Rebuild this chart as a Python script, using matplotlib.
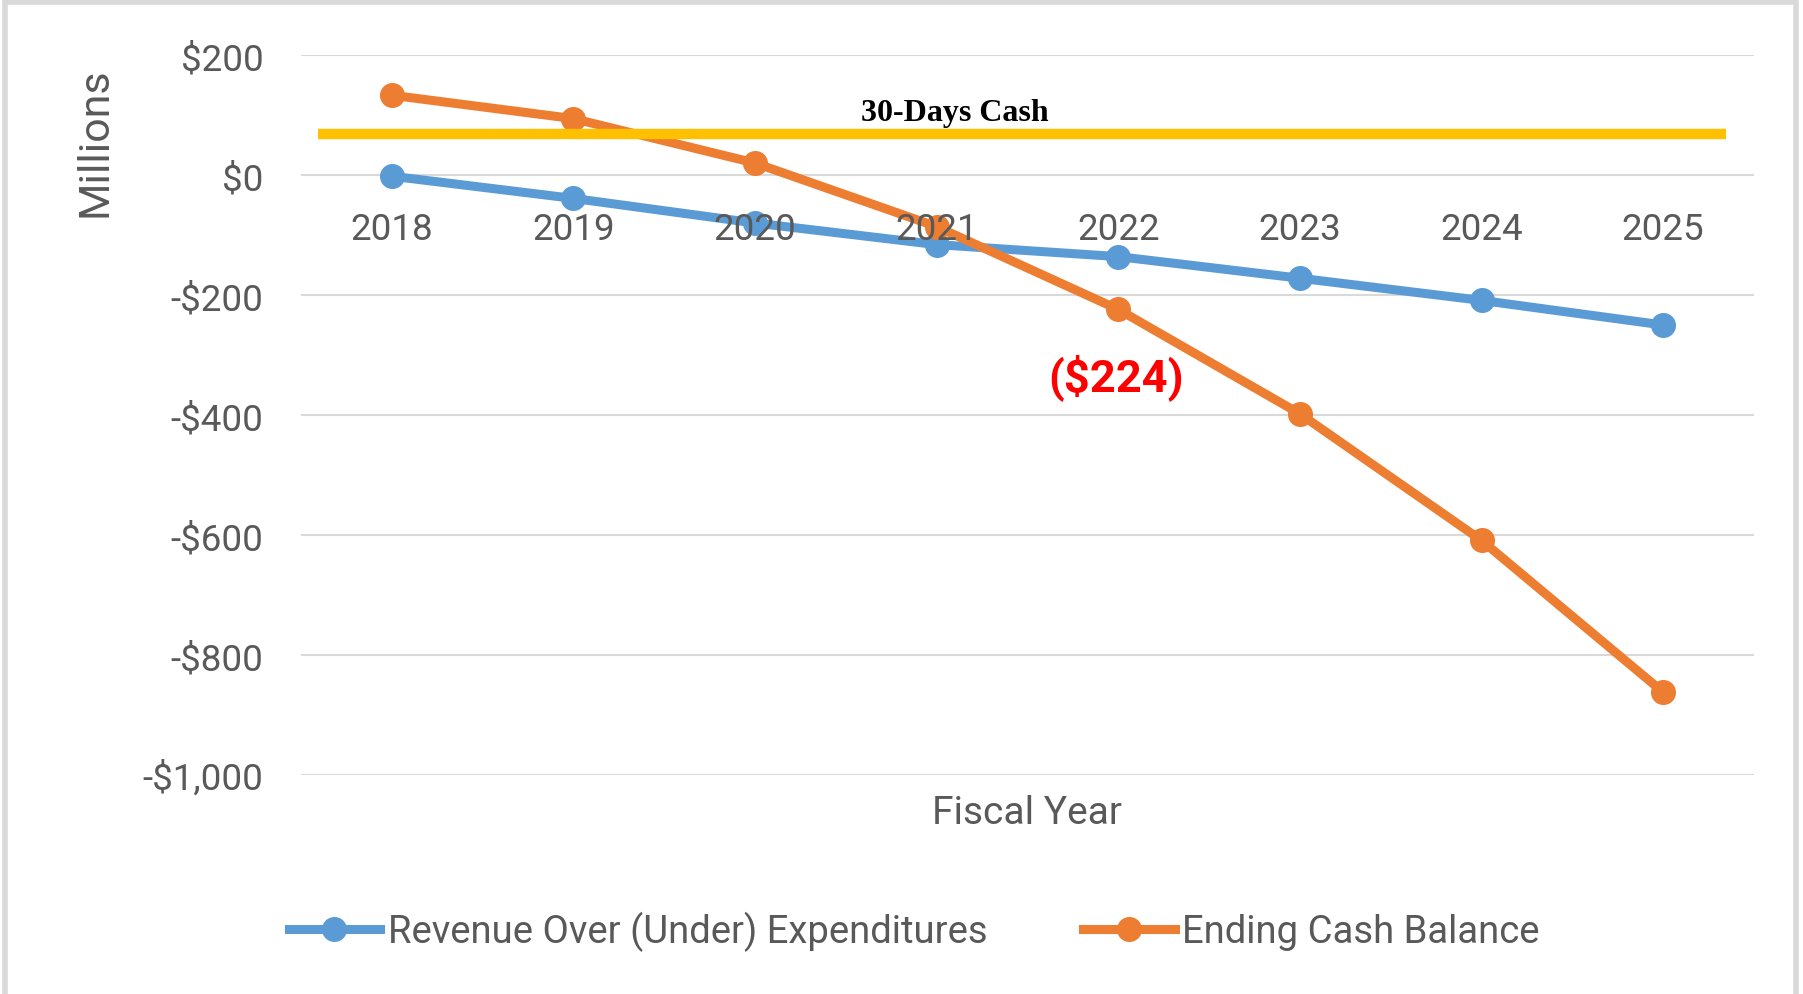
import matplotlib.pyplot as plt
from matplotlib.patches import Rectangle

# chart data (millions)
years = ['2018', '2019', '2020', '2021', '2022', '2023', '2024', '2025']
revenue_over_under = [-2, -39, -80, -116, -136, -172, -209, -250]
ending_cash = [133, 94, 20, -86, -224, -398, -609, -862]
cash_30_days = 68
y_ticks = [200, 0, -200, -400, -600, -800, -1000]
y_tick_labels = ['$200', '$0', '-$200', '-$400', '-$600', '-$800', '-$1,000']

plt.rcParams['font.family'] = ['Roboto', 'DejaVu Sans']
gray = '#595959'

fig = plt.figure(figsize=(18.03, 9.95), dpi=100, facecolor='w')
ax = fig.add_axes([0.1669, 0.2201, 0.8059, 0.7236])

x = list(range(len(years)))
ax.plot(x, revenue_over_under, color='#5B9BD5', lw=6.5, marker='o', ms=17,
        zorder=3, label='Revenue Over (Under) Expenditures')
ax.plot(x, ending_cash, color='#ED7D31', lw=6.5, marker='o', ms=17,
        zorder=4, label='Ending Cash Balance')

# 30 days cash line + labels
ax.axhline(cash_30_days, xmin=0.012, xmax=0.981, color='#FFC000', lw=7.5,
           solid_capstyle='butt', zorder=5)
ax.text(3.1, cash_30_days + 37, '30-Days Cash', family='Liberation Serif',
        weight='bold', fontsize=23, ha='center', va='center', zorder=6)
ax.text(3.99, ending_cash[4] - 112, '($%d)' % -ending_cash[4], color='#FF0000',
        weight='bold', fontsize=32.5, ha='center', va='center', zorder=6)

ax.set_xlim(-0.5, len(years) - 0.5)
ax.set_ylim(-1000, 200)
ax.set_xticks(x)
ax.set_xticklabels(years)
ax.set_yticks(y_ticks)
ax.set_yticklabels(y_tick_labels)

for s in ax.spines.values():
    s.set_visible(False)
ax.spines['bottom'].set_position(('data', 0))

ax.yaxis.grid(True, color='#D9D9D9', lw=1.5)
ax.xaxis.grid(False)
ax.set_axisbelow(True)
ax.xaxis.set_zorder(7)
ax.tick_params(axis='x', length=0, pad=26, labelsize=26.5, labelcolor=gray)
ax.tick_params(axis='y', length=0, pad=27, labelsize=26.5, labelcolor=gray)

fig.text(95 / 1803, 1 - 142 / 995, 'Millions', rotation=90, fontsize=31,
         color=gray, ha='center', va='center')
fig.text(0.5697, 1 - 814 / 995, 'Fiscal Year', fontsize=28, color=gray,
         ha='center', va='center')

leg = fig.legend(loc='center', bbox_to_anchor=(0.507, 0.063), ncol=2,
                 frameon=False, fontsize=27.5, handlelength=2.4,
                 handletextpad=0.2, columnspacing=2.5)
for t in leg.get_texts():
    t.set_color(gray)

fig.add_artist(Rectangle((0.003, -0.1), 0.993, 1.097, transform=fig.transFigure,
                         fill=False, edgecolor='#D9D9D9', lw=4))

fig.savefig('out.png', dpi=100)
